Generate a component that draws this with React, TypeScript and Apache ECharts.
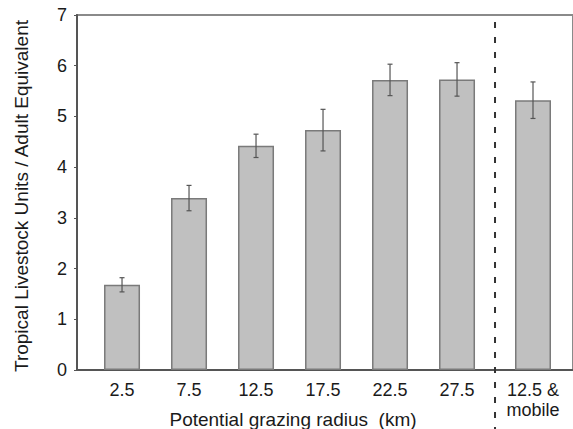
import React, { useEffect, useRef } from "react";
import * as echarts from "echarts";

// ---- data ----
const categories = ["2.5", "7.5", "12.5", "17.5", "22.5", "27.5", "12.5 &\nmobile"];
const meanValues = [1.68, 3.39, 4.42, 4.73, 5.72, 5.73, 5.32];
const errorValues = [0.14, 0.25, 0.23, 0.41, 0.31, 0.33, 0.36];
const yTicks = [0, 1, 2, 3, 4, 5, 6, 7];

// ---- layout ----
const W = 573;
const H = 429;
const MOBILE_EXTRA_GAP = 0.134; // extra spacing before the separated group
const SEPARATOR_AT = 6.567;
const X_MIN = 0.328;
const X_MAX = 7.731;

const slotOf = (i: number) => i + 1 + (i === categories.length - 1 ? MOBILE_EXTRA_GAP : 0);

const FONT = "'Liberation Sans', Arial, Helvetica, sans-serif";

export default function App() {
  const ref = useRef<HTMLDivElement>(null);

  useEffect(() => {
    document.body.style.margin = "0";
    if (!ref.current) return;
    const chart = echarts.init(ref.current, null, { renderer: "svg" });

    const slots = categories.map((_, i) => slotOf(i));
    const barData = meanValues.map((v, i) => [slots[i], v]);
    const errData = meanValues.map((v, i) => [slots[i], v - errorValues[i], v + errorValues[i]]);

    const option: any = {
      animation: false,
      backgroundColor: "#ffffff",
      grid: {
        left: 77,
        top: 15,
        right: -3,
        bottom: H - 370,
        show: true,
        borderColor: "#8a8a8a",
        borderWidth: 2,
        backgroundColor: "transparent",
      },
      xAxis: {
        type: "value",
        min: X_MIN,
        max: X_MAX,
        splitLine: { show: false },
        axisLine: { show: true, onZero: false, lineStyle: { color: "#555555", width: 2 } },
        axisTick: { show: false },
        axisLabel: {
          customValues: slots,
          color: "#1a1a1a",
          fontSize: 18,
          fontFamily: FONT,
          margin: 10,
          lineHeight: 20,
          formatter: (val: number) => {
            let best = 0;
            let d = Infinity;
            slots.forEach((s, i) => {
              if (Math.abs(s - val) < d) {
                d = Math.abs(s - val);
                best = i;
              }
            });
            return categories[best];
          },
        },
      },
      yAxis: {
        type: "value",
        min: 0,
        max: 7,
        interval: 1,
        splitLine: { show: false },
        axisLine: { show: true, lineStyle: { color: "#555555", width: 2 } },
        axisTick: { show: true, length: 3, lineStyle: { color: "#555555", width: 1 } },
        axisLabel: {
          color: "#1a1a1a",
          fontSize: 18,
          fontFamily: FONT,
          margin: 10,
          formatter: (v: number) => (yTicks.includes(v) ? String(v) : ""),
        },
      },
      series: [
        {
          type: "bar",
          data: barData,
          barWidth: 36,
          itemStyle: { color: "#c0c0c0", borderColor: "#7a7a7a", borderWidth: 1.5 },
        },
        {
          type: "custom",
          data: errData,
          z: 5,
          renderItem: (params: any, api: any) => {
            const x = api.value(0);
            const lo = api.coord([x, api.value(1)]);
            const hi = api.coord([x, api.value(2)]);
            const cap = 2.5;
            const style = { stroke: "#555555", lineWidth: 1.2 };
            return {
              type: "group",
              children: [
                { type: "line", shape: { x1: lo[0], y1: lo[1], x2: hi[0], y2: hi[1] }, style },
                { type: "line", shape: { x1: lo[0] - cap, y1: lo[1], x2: lo[0] + cap, y2: lo[1] }, style },
                { type: "line", shape: { x1: hi[0] - cap, y1: hi[1], x2: hi[0] + cap, y2: hi[1] }, style },
              ],
            };
          },
        },
      ],
      graphic: [
        {
          type: "text",
          x: 21,
          y: 196,
          rotation: Math.PI / 2,
          style: {
            text: "Tropical Livestock Units / Adult Equivalent",
            fill: "#1a1a1a",
            fontSize: 19,
            fontFamily: FONT,
            align: "center",
            verticalAlign: "middle",
          },
        },
        {
          type: "text",
          x: 293,
          y: 419,
          style: {
            text: "Potential grazing radius  (km)",
            fill: "#1a1a1a",
            fontSize: 19,
            fontFamily: FONT,
            align: "center",
            verticalAlign: "middle",
          },
        },
      ],
    };

    chart.setOption(option);

    const sepX = chart.convertToPixel({ xAxisIndex: 0 }, SEPARATOR_AT) as number;
    chart.setOption({
      graphic: [
        {},
        {},
        {
          type: "line",
          shape: { x1: sepX, y1: 22, x2: sepX, y2: H },
          style: { stroke: "#333333", lineWidth: 2, lineDash: [6, 9] },
          z: 10,
        },
      ],
    });

    return () => chart.dispose();
  }, []);

  return <div ref={ref} style={{ width: W, height: H }} />;
}
